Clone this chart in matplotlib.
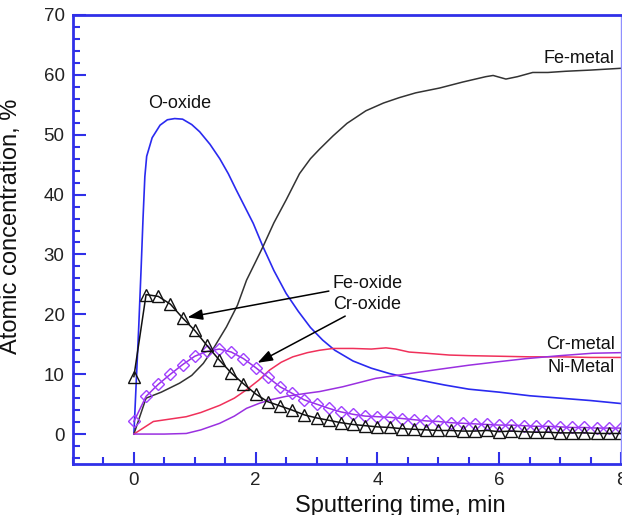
import numpy as np
import matplotlib
matplotlib.use('Agg')
import matplotlib.pyplot as plt
from matplotlib.ticker import MultipleLocator

plt.rcParams['font.family'] = ['Liberation Sans', 'DejaVu Sans']

# O-oxide (blue)
o_x = [0, 0.04, 0.08, 0.12, 0.15, 0.18, 0.21, 0.3, 0.43, 0.55, 0.67, 0.8, 0.95, 1.08, 1.25,
       1.41, 1.55, 1.68, 1.82, 1.96, 2.12, 2.3, 2.5, 2.7, 2.9, 3.1, 3.3, 3.6, 3.9, 4.2, 4.5,
       4.8, 5.1, 5.5, 6.0, 6.5, 7.0, 7.5, 8.0]
o_y = [0, 9, 18, 28, 36, 43, 46.4, 49.5, 51.6, 52.5, 52.7, 52.6, 51.7, 50.5, 48.4,
       46.0, 43.5, 40.8, 38.0, 35.2, 31.3, 27.3, 23.5, 20.5, 17.8, 15.7, 14.0, 12.2, 11.0, 10.1, 9.4,
       8.8, 8.2, 7.5, 7.0, 6.4, 6.0, 5.6, 5.1]

# Fe-metal (dark grey)
fem_x = [0, 0.2, 0.45, 0.75, 0.95, 1.14, 1.3, 1.52, 1.7, 1.85, 2.0, 2.12, 2.3, 2.5, 2.72,
         2.9, 3.05, 3.27, 3.5, 3.81, 4.1, 4.36, 4.63, 5.02, 5.4, 5.78, 5.9, 6.11, 6.3, 6.55,
         6.8, 7.09, 7.5, 8.0]
fem_y = [0, 6.0, 7.0, 8.5, 9.8, 11.8, 14.2, 17.9, 21.5, 25.7, 28.8, 31.3, 35.3, 39.1, 43.5,
         46.0, 47.6, 49.8, 51.9, 54.0, 55.3, 56.2, 57.0, 57.8, 58.8, 59.7, 59.9, 59.3, 59.7, 60.4,
         60.4, 60.6, 60.8, 61.1]

# oxide series sampled every 0.2 min
ox_x = [round(0.2 * i, 1) for i in range(41)]
feo_y = [9.6, 23.3, 23.0, 21.7, 19.4, 17.3, 14.8, 12.4, 10.2, 8.4, 6.7, 5.4, 4.7, 4.0, 3.2,
         2.7, 2.3, 1.9, 1.6, 1.4, 1.2, 1.1, 0.9, 0.8, 0.7, 0.6, 0.6, 0.5, 0.5, 0.6, 0.4,
         0.5, 0.4, 0.3, 0.3, 0.2, 0.2, 0.2, 0.1, 0.1, 0.1]
cro_y = [2.1, 6.3, 8.3, 10.0, 11.6, 13.0, 13.8, 14.2, 13.7, 12.6, 11.1, 9.5, 7.9, 6.8, 5.7,
         5.0, 4.3, 3.7, 3.3, 3.0, 2.9, 2.8, 2.6, 2.4, 2.2, 2.1, 1.9, 1.8, 1.7, 1.6, 1.5,
         1.5, 1.4, 1.3, 1.3, 1.2, 1.1, 1.1, 1.0, 1.0, 1.0]

# Cr-metal (red)
crm_x = [0, 0.32, 0.86, 1.1, 1.41, 1.65, 1.85, 2.05, 2.23, 2.42, 2.61, 2.85, 3.05, 3.27, 3.6,
         3.9, 4.14, 4.3, 4.52, 4.8, 5.18, 5.5, 6.0, 6.5, 7.0, 7.5, 8.0]
crm_y = [0, 2.1, 2.9, 3.6, 4.8, 6.0, 7.4, 9.0, 10.7, 12.0, 12.9, 13.6, 14.0, 14.3, 14.3,
         14.2, 14.4, 14.2, 13.7, 13.5, 13.2, 13.1, 13.0, 12.9, 12.9, 12.8, 12.8]

# Ni-Metal (violet)
nim_x = [0, 0.5, 0.86, 1.1, 1.41, 1.65, 1.85, 2.05, 2.23, 2.5, 2.83, 3.05, 3.43, 3.97, 4.52,
         5.0, 5.5, 6.0, 6.44, 7.0, 7.53, 8.0]
nim_y = [0, 0, 0.1, 0.7, 1.8, 3.0, 4.3, 5.1, 5.7, 6.3, 6.8, 7.1, 7.9, 9.3, 10.1,
         10.8, 11.5, 12.1, 12.6, 13.1, 13.5, 13.6]

fig = plt.figure(figsize=(6.22, 5.15), dpi=100)
ax = fig.add_axes([73 / 622, 51 / 515, 548 / 622, 449 / 515])

ax.plot(o_x, o_y, color='#2a2af0', lw=1.2)
ax.plot(fem_x, fem_y, color='#333333', lw=1.1)
ax.plot(crm_x, crm_y, color='#f0305a', lw=1.1)
ax.plot(nim_x, nim_y, color='#9a30e0', lw=1.1)
ax.plot(ox_x, cro_y, color='#9a30e8', lw=1.1, marker='D', ms=6.2,
        mfc='none', mec='#a040ff', mew=1.0)
ax.plot(ox_x, feo_y, color='#111111', lw=1.1, marker='^', ms=8.5,
        mfc='none', mec='#111111', mew=1.0)

tkw = dict(fontsize=13, color='#111111')
ax.text(0.75, 55.3, 'O-oxide', ha='center', va='center', **tkw)
ax.text(7.9, 62.8, 'Fe-metal', ha='right', va='center', **tkw)
ax.text(7.9, 14.9, 'Cr-metal', ha='right', va='center', **tkw)
ax.text(7.9, 11.2, 'Ni-Metal', ha='right', va='center', **tkw)

akw = dict(arrowstyle='-|>,head_length=0.7,head_width=0.25', color='black', lw=1.1,
           shrinkA=1, shrinkB=0)
ax.annotate('Fe-oxide', xy=(0.88, 19.5), xytext=(3.27, 25.1), ha='left', va='center',
            arrowprops=akw, **tkw)
ax.annotate('Cr-oxide', xy=(2.03, 11.9), xytext=(3.28, 21.7), ha='left', va='center',
            arrowprops=akw, **tkw)

ax.set_xlim(-1, 8)
ax.set_ylim(-5, 70)
ax.xaxis.set_major_locator(MultipleLocator(2))
ax.xaxis.set_minor_locator(MultipleLocator(0.5))
ax.yaxis.set_major_locator(MultipleLocator(10))
ax.yaxis.set_minor_locator(MultipleLocator(2))
ax.set_xticks([0, 2, 4, 6, 8])
ax.set_yticks([0, 10, 20, 30, 40, 50, 60, 70])

blue = '#3030e8'
for side in ['left', 'bottom', 'top']:
    ax.spines[side].set_color(blue)
    ax.spines[side].set_linewidth(2)
ax.spines['right'].set_color('#9090ff')
ax.spines['right'].set_linewidth(1)

ax.tick_params(which='both', direction='in', color=blue, width=1.5,
               top=False, right=False, labelsize=13.5, labelcolor='#222222')
ax.tick_params(which='major', length=9, pad=6)
ax.tick_params(which='minor', length=5)

ax.set_xlabel('Sputtering time, min', fontsize=17, color='#111111')
ax.set_ylabel('Atomic concentration, %', fontsize=17, color='#111111')
ax.xaxis.set_label_coords(0.597, -0.068)
ax.yaxis.set_label_coords(-0.093, 0.53)

fig.savefig('out.png', dpi=100)
